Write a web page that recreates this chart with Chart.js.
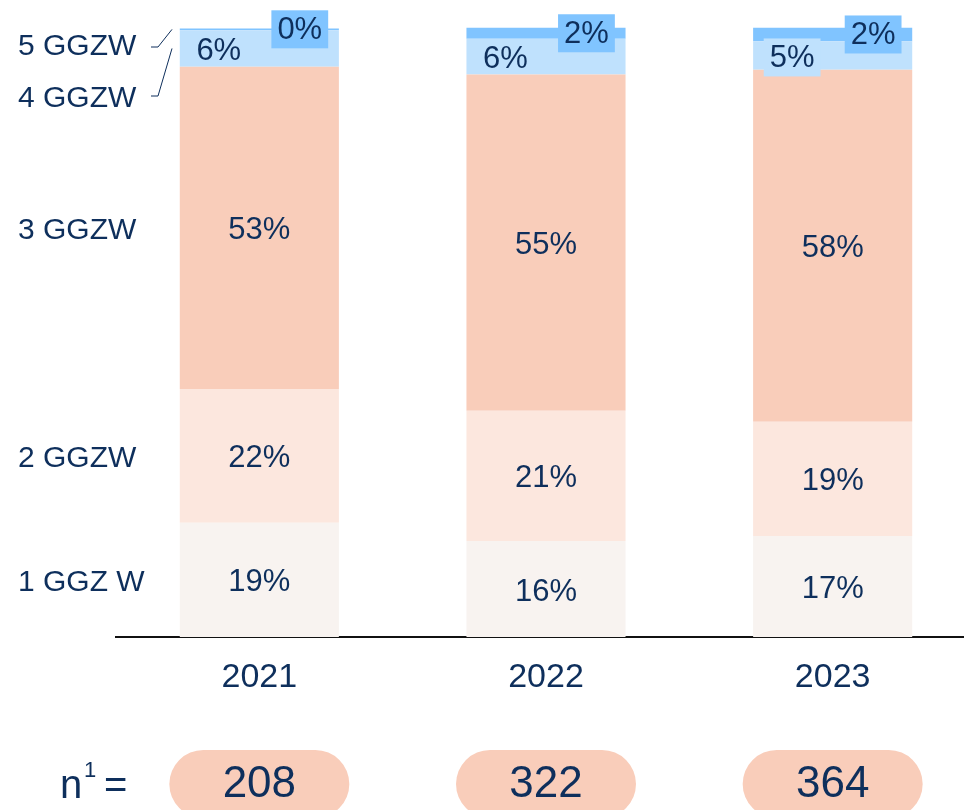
<!DOCTYPE html>
<html>
<head>
<meta charset="utf-8">
<script src="https://cdn.jsdelivr.net/npm/chart.js@4.4.1/dist/chart.umd.min.js"></script>
<style>
  html, body { margin: 0; padding: 0; background: #fff; overflow: hidden; }
  #wrap { width: 964px; height: 810px; overflow: hidden; }
</style>
</head>
<body>
<div id="wrap"><canvas id="myChart" width="980" height="810"></canvas></div>
<script>
const years = ['2021', '2022', '2023'];
const levels = ['1 GGZ W', '2 GGZW', '3 GGZW', '4 GGZW', '5 GGZW'];
const ggz1 = [18.8, 15.8, 16.6];
const ggz2 = [22.0, 21.4, 18.8];
const ggz3 = [53.0, 55.3, 57.9];
const ggz4 = [6.0, 5.9, 4.7];
const ggz5 = [0.3, 1.8, 2.2];
const nValues = [208, 322, 364];

const colours = ['#F8F3F0', '#FCE7DE', '#F9CDBA', '#BFE1FD', '#80C4FF'];
const navy = '#0E2F5C';
const font = '"Liberation Sans", Arial, sans-serif';

const series = [ggz1, ggz2, ggz3, ggz4, ggz5];

const labelPlugin = {
  id: 'labelPlugin',
  afterDatasetsDraw(chart) {
    const ctx = chart.ctx;
    ctx.save();
    ctx.textBaseline = 'middle';

    // percentages in the bars
    series.forEach((vals, d) => {
      const meta = chart.getDatasetMeta(d);
      meta.data.forEach((bar, i) => {
        const txt = Math.round(vals[i]) + '%';
        const left = bar.x - bar.width / 2;
        const mid = (bar.y + bar.base) / 2;
        ctx.font = '31px ' + font;
        ctx.textAlign = 'center';
        if (d < 3) {
          ctx.fillStyle = navy;
          ctx.fillText(txt, bar.x, mid + 3);
        } else {
          let cx = d == 3 ? left + 39 : left + 120;
          const w = ctx.measureText(txt).width + 12;
          if (d == 4 || i == 2) {
            ctx.fillStyle = colours[d];
            ctx.fillRect(cx - w / 2, mid - 19 + (d == 3 ? 2 : 0), w, 38);
          }
          ctx.fillStyle = navy;
          ctx.fillText(txt, cx, mid + (d == 3 ? 3 : 1));
        }
      });
    });

    // category names on the left
    ctx.font = '30px ' + font;
    ctx.textAlign = 'left';
    ctx.fillStyle = navy;
    for (let d = 0; d < 3; d++) {
      const bar = chart.getDatasetMeta(d).data[0];
      ctx.fillText(levels[d], 18, (bar.y + bar.base) / 2 + 3);
    }
    const b4 = chart.getDatasetMeta(3).data[0];
    const b5 = chart.getDatasetMeta(4).data[0];
    ctx.fillText(levels[4], 18, 47);
    ctx.fillText(levels[3], 18, 99);
    ctx.strokeStyle = navy;
    ctx.lineWidth = 1;
    ctx.beginPath();
    ctx.moveTo(151, 47); ctx.lineTo(158, 47); ctx.lineTo(172, b5.y + 1);
    ctx.moveTo(151, 96); ctx.lineTo(158, 96); ctx.lineTo(172, (b4.y + b4.base) / 2);
    ctx.stroke();

    // n per year
    ctx.font = '40px ' + font;
    ctx.fillText('n', 60, 787);
    ctx.font = '22px ' + font;
    ctx.fillText('1', 84, 771);
    ctx.font = '40px ' + font;
    ctx.fillText('=', 104, 787);
    chart.getDatasetMeta(0).data.forEach((bar, i) => {
      ctx.fillStyle = colours[2];
      ctx.beginPath();
      ctx.roundRect(bar.x - 90, 750, 180, 68, 34);
      ctx.fill();
      ctx.fillStyle = navy;
      ctx.textAlign = 'center';
      ctx.font = '44px ' + font;
      ctx.fillText(String(nValues[i]), bar.x, 785);
      ctx.textAlign = 'left';
    });
    ctx.restore();
  }
};

const data = {
  labels: years,
  datasets: series.map((vals, d) => ({
    label: levels[d],
    data: vals,
    backgroundColor: colours[d],
    borderWidth: 0,
    categoryPercentage: 1,
    barPercentage: 0.555,
    clip: false
  }))
};

const config = {
  type: 'bar',
  data: data,
  options: {
    responsive: false,
    animation: false,
    layout: { padding: { left: 116, right: 4, top: 29, bottom: 0 } },
    plugins: {
      legend: { display: false },
      tooltip: { enabled: false }
    },
    scales: {
      x: {
        stacked: true,
        grid: { display: false, drawTicks: false },
        border: { display: true, color: '#111', width: 2 },
        ticks: {
          color: navy,
          font: { family: font, size: 34 },
          padding: 20
        },
        afterFit: function(scale) { scale.height = 173; }
      },
      y: {
        stacked: true,
        display: false,
        min: 0,
        max: 100
      }
    }
  },
  plugins: [labelPlugin]
};

const myChart = new Chart(document.getElementById('myChart'), config);
</script>
</body>
</html>
